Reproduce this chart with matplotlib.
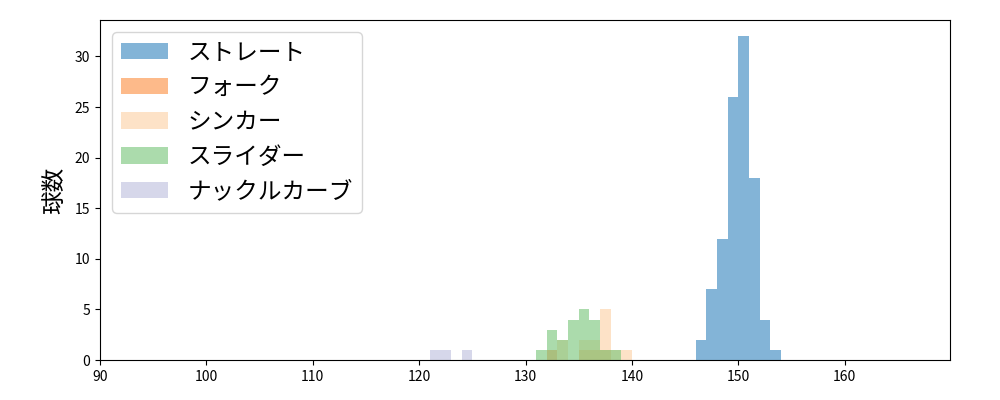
import matplotlib

matplotlib.use("Agg")
import matplotlib.pyplot as plt
import numpy as np

plt.rcParams["font.family"] = ["Noto Sans CJK JP", "DejaVu Sans"]

# integer speed bins (km/h) and counts per pitch type
bin_left = list(range(90, 170))

pitch_names = ["ストレート", "フォーク", "シンカー", "スライダー", "ナックルカーブ"]
pitch_counts = {
    "ストレート": {146: 2, 147: 7, 148: 12, 149: 26, 150: 32, 151: 18, 152: 4, 153: 1},
    "フォーク": {132: 1, 135: 1, 136: 1, 137: 1},
    "シンカー": {133: 2, 135: 2, 136: 2, 137: 5, 138: 1, 139: 1},
    "スライダー": {131: 1, 132: 3, 133: 2, 134: 4, 135: 5, 136: 4, 137: 1, 138: 1},
    "ナックルカーブ": {121: 1, 122: 1, 124: 1},
}
pitch_colors = ["#3182bd", "#fd8d3c", "#fdd0a2", "#74c476", "#bcbddc"]

fig, ax = plt.subplots(figsize=(10, 4), dpi=100)
fig.subplots_adjust(left=0.1, right=0.95, top=0.95, bottom=0.1)

edges = np.array(bin_left + [bin_left[-1] + 1], dtype=float)
for name, color in zip(pitch_names, pitch_colors):
    counts = pitch_counts[name]
    weights = [counts.get(b, 0) for b in bin_left]
    ax.hist(
        bin_left,
        bins=edges,
        weights=weights,
        color=color,
        alpha=0.6,
        label=name,
    )

ax.set_xlim(90, 169.9)
ax.set_ylabel("球数", fontsize=17, labelpad=6)
ax.legend(loc="upper left", fontsize=17)
fig.savefig("out.png", dpi=100)
plt.close(fig)
